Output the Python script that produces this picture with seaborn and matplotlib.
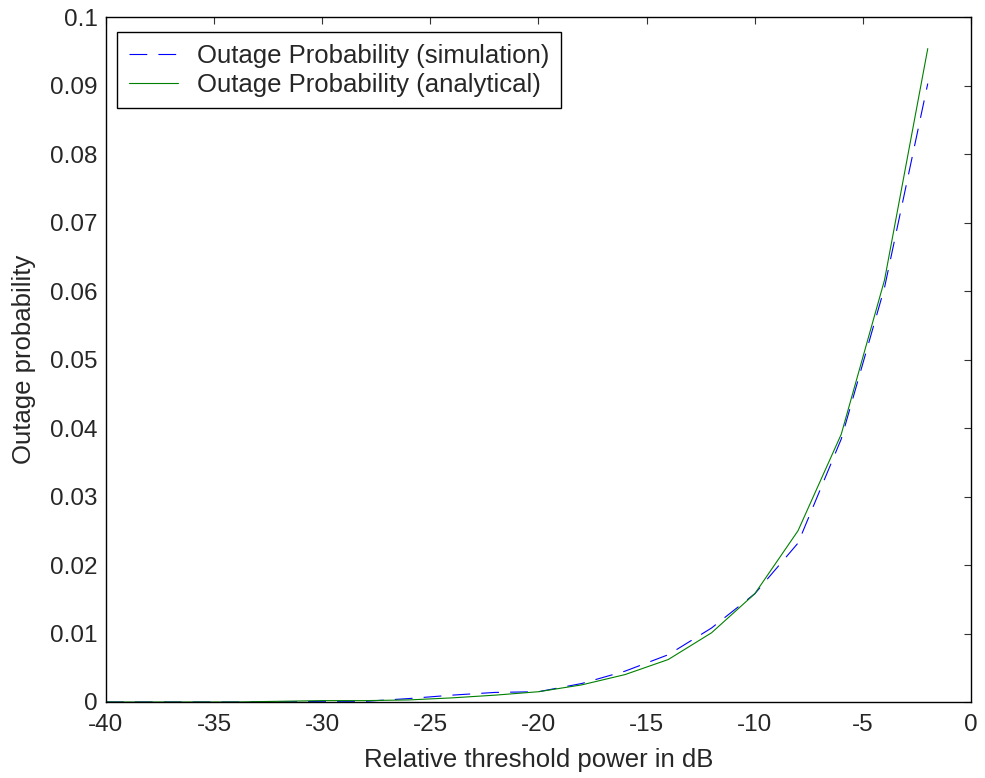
import numpy as np
import pandas as pd
import seaborn as sns
import matplotlib
matplotlib.use("Agg")
import matplotlib.pyplot as plt

# threshold power (dB), 2 dB steps
threshold_db = [-40, -38, -36, -34, -32, -30, -28, -26, -24, -22, -20,
                -18, -16, -14, -12, -10, -8, -6, -4, -2]

# simulated outage probability
p_sim = [0.0, 0.0, 0.0, 0.0, 0.0, 0.0001, 0.0001, 0.0005, 0.0010, 0.0014, 0.0015,
         0.0027, 0.0045, 0.0069, 0.0108, 0.0158, 0.0232, 0.0384, 0.0605, 0.0903]

# analytical outage probability
p_ana = [0.0, 0.0, 0.0, 0.0, 0.0001, 0.0002, 0.0002, 0.0003, 0.0006, 0.0010, 0.0015,
         0.0025, 0.0040, 0.0062, 0.0101, 0.0158, 0.0250, 0.0391, 0.0616, 0.0954]

df = pd.DataFrame({'dB': threshold_db, 'sim': p_sim, 'ana': p_ana})

sns.set_style("white")
plt.rcParams['font.family'] = ['Liberation Sans', 'DejaVu Sans']
plt.rcParams['xtick.direction'] = 'in'
plt.rcParams['ytick.direction'] = 'in'
plt.rcParams['axes.unicode_minus'] = False

fig = plt.figure(figsize=(9.85, 7.78), dpi=100)
ax = fig.add_axes([0.1076, 0.0977, 0.8782, 0.8803])

sns.lineplot(data=df, x='dB', y='sim', ax=ax, color=(0, 0, 1), linewidth=0.8,
             label='Outage Probability (simulation)')
ax.lines[-1].set_dashes((16, 10))
sns.lineplot(data=df, x='dB', y='ana', ax=ax, color=(0, 0.5, 0), linewidth=0.8,
             label='Outage Probability (analytical)')

ax.set_xlim(-40, 0)
ax.set_ylim(0, 0.1)
ax.set_xticks(np.arange(-40, 1, 5))
ax.set_yticks(np.arange(0, 0.101, 0.01))
ax.set_yticklabels(['0', '0.01', '0.02', '0.03', '0.04', '0.05', '0.06', '0.07',
                    '0.08', '0.09', '0.1'])
ax.tick_params(axis='both', labelsize=17.5, top=True, right=True, length=5,
               width=0.8, color='#333333')
ax.tick_params(axis='y', pad=6)
ax.tick_params(axis='x', pad=9)
for s in ax.spines.values():
    s.set_visible(True)
    s.set_color('black')
    s.set_linewidth(1.0)

ax.set_xlabel('Relative threshold power in dB', fontsize=18.5, labelpad=8)
ax.set_ylabel('Outage probability', fontsize=18.5, labelpad=10)

leg = ax.legend(loc='upper left', bbox_to_anchor=(0.013, 0.978), fontsize=18.5,
                frameon=True, fancybox=False, edgecolor='black', framealpha=1,
                borderaxespad=0, handlelength=1.9, handletextpad=0.75,
                borderpad=0.45, labelspacing=0.2)
leg.get_frame().set_linewidth(1.0)

fig.savefig('out.png', dpi=100)
